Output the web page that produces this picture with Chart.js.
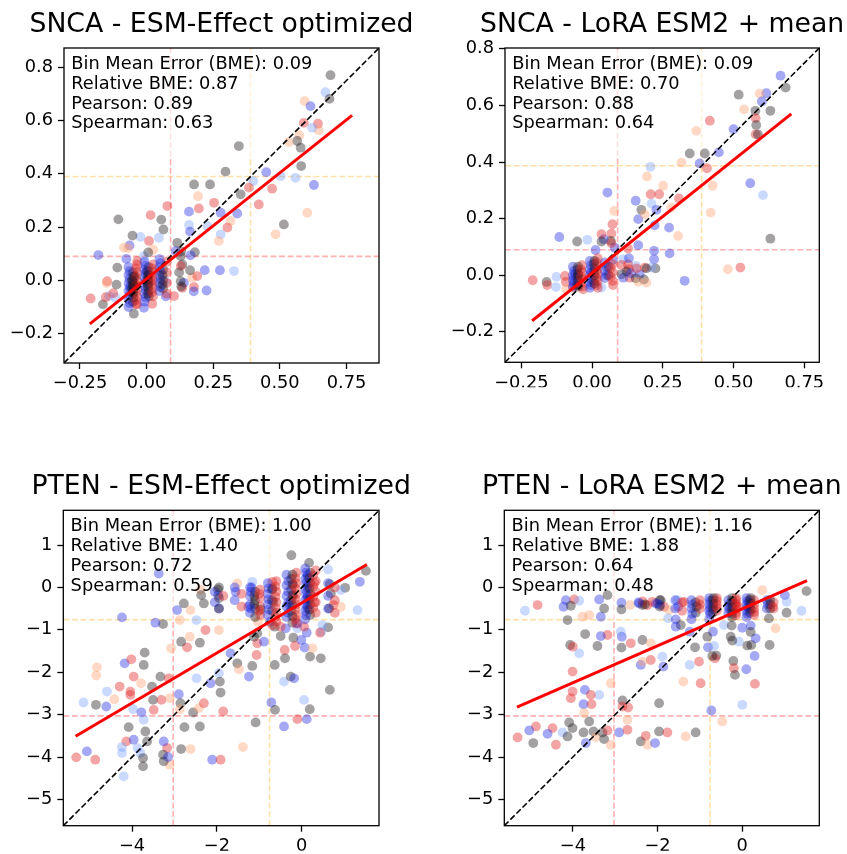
<!DOCTYPE html>
<html><head><meta charset="utf-8">
<script src="https://cdn.jsdelivr.net/npm/chart.js@4"></script>
<style>
html,body{margin:0;padding:0;background:#fff;}
#wrap{position:relative;width:847px;height:854px;overflow:hidden;}
canvas{position:absolute;}
</style></head><body><div id="wrap">
<canvas id="c0" width="420" height="427" style="left:0;top:0"></canvas>
<canvas id="c1" width="427" height="427" style="left:420px;top:0"></canvas>
<canvas id="c2" width="420" height="427" style="left:0;top:427px"></canvas>
<canvas id="c3" width="427" height="427" style="left:420px;top:427px"></canvas>
</div>
<script>
// ---------------- DATA ----------------
const TITLES = ['SNCA - ESM-Effect optimized','SNCA - LoRA ESM2 + mean','PTEN - ESM-Effect optimized','PTEN - LoRA ESM2 + mean'];
const STAT_LABELS = ['Bin Mean Error (BME)','Relative BME','Pearson','Spearman'];
const STATS = [[0.09,0.87,0.89,0.63],[0.09,0.70,0.88,0.64],[1.00,1.40,0.72,0.59],[1.16,1.88,0.64,0.48]];
const AXIS_LIMITS = [[-0.31,0.872],[-0.308,0.803],[-5.62,1.82],[-5.62,1.82]];
const TICKS_SNCA_X = [-0.25,0,0.25,0.5,0.75];
const TICKS_SNCA_Y = [-0.2,0,0.2,0.4,0.6,0.8];
const TICKS_PTEN_X = [-4,-2,0];
const TICKS_PTEN_Y = [-5,-4,-3,-2,-1,0,1];
const PINK_THRESH = [0.09,0.09,-3.03,-3.03];
const ORANGE_THRESH = [0.39,0.387,-0.76,-0.76];
const FIT_LINES = [[[-0.213,-0.163],[0.771,0.619]],[[-0.212,-0.161],[0.704,0.570]],[[-5.33,-3.51],[1.535,0.54]],[[-5.32,-2.82],[1.53,0.16]]];
// points: [true value, predicted value, hue code 0..4]
const SNCA_ESM = [
[0.69,0.77,2],[0.671,0.706,0],[0.686,0.681,2],[0.593,0.673,4],[0.615,0.654,1],[0.59,0.591,3],[0.643,0.588,3],[0.646,0.563,4],[0.621,0.573,0],[0.573,0.545,4],
[0.565,0.523,2],[0.578,0.498,2],[0.58,0.429,2],[0.559,0.385,0],[0.628,0.358,1],[0.503,0.391,0],[0.449,0.406,1],[0.534,0.519,4],[0.346,0.504,2],[0.296,0.408,2],
[0.40,0.373,0],[0.384,0.348,3],[0.353,0.323,2],[0.471,0.344,3],[0.421,0.285,3],[0.178,0.36,2],[0.238,0.36,2],[0.193,0.316,4],[0.253,0.291,3],[0.196,0.27,3],
[0.278,0.254,1],[0.34,0.251,1],[0.315,0.223,4],[0.303,0.198,3],[0.278,0.173,0],[0.271,0.148,4],[0.228,0.204,0],[0.159,0.258,1],[0.159,0.208,0],[0.163,0.183,1],
[0.515,0.21,2],[0.484,0.173,4],[0.603,0.254,4],[0.078,0.279,3],[0.015,0.245,3],[0.055,0.228,2],[0.063,0.191,2],[-0.106,0.229,2],[-0.064,0.131,1],[-0.023,0.163,0],
[0.009,0.148,3],[0.025,0.115,4],[-0.01,0.091,0],[0.046,0.16,0],[0.115,0.141,2],[0.109,0.11,1],[0.128,0.091,2],[0.181,0.106,2],[-0.181,0.095,1],[-0.085,0.123,4],
[-0.076,0.081,1],[-0.035,0.073,3],[-0.11,0.048,2],[-0.148,-0.003,3],[-0.141,-0.059,0],[-0.21,-0.068,3],[-0.164,-0.09,2],[-0.153,-0.063,3],[-0.116,-0.065,0],[-0.048,-0.125,2],
[-0.041,-0.09,3],[-0.01,-0.103,1],[0.021,-0.088,3],[0.071,-0.003,0],[0.103,-0.059,3],[0.14,-0.009,1],[0.134,-0.028,3],[0.178,-0.025,3],[0.171,0.01,4],[0.19,0.016,3],
[0.218,0.038,1],[0.225,-0.038,1],[0.163,0.038,2],[0.134,0.06,2],[0.128,0.054,3],[0.275,0.038,1],[0.328,0.035,0],[0.165,0.094,1],[0.128,-0.003,2],[-0.053,0.168,2],
[0.006,0.105,2],[-0.069,0.121,4],[0.13,0.109,2],[0.122,0.03,2],[0.13,-0.023,2],[0.177,-0.041,1],[0.072,-0.06,1],[-0.125,-0.048,3],[-0.15,-0.01,4],[-0.113,-0.016,2],
[-0.068,0.05,1],[-0.068,0.02,1],[-0.068,-0.01,1],[-0.068,-0.04,1],[-0.068,-0.07,1],[-0.068,-0.1,1],[-0.052,0.03,2],[-0.052,0.0,2],[-0.052,-0.02,2],[-0.052,-0.05,2],
[-0.052,-0.08,2],[-0.036,0.06,3],[-0.036,0.03,3],[-0.036,0.0,3],[-0.036,-0.03,3],[-0.036,-0.06,3],[-0.036,-0.09,3],[-0.06,-0.025,1],[-0.045,-0.015,3],[-0.045,0.015,2],
[-0.008,0.07,1],[-0.008,0.04,1],[-0.008,0.01,1],[-0.008,-0.02,1],[-0.008,-0.05,1],[-0.008,-0.08,1],[0.008,0.05,2],[0.008,0.02,2],[0.008,-0.01,2],[0.008,-0.04,2],
[0.008,-0.06,2],[0.024,0.06,3],[0.024,0.03,3],[0.024,0.0,3],[0.024,-0.03,3],[0.024,-0.06,3],[0.015,0.0,3],[0.0,0.035,1],
[0.048,0.08,1],[0.048,0.05,1],[0.048,0.02,1],[0.048,-0.01,1],[0.048,-0.04,1],[0.062,0.04,2],[0.062,0.0,2],[0.062,-0.03,2],[0.076,0.07,3],[0.076,0.03,3],
[0.076,-0.01,3],[0.076,-0.05,3],
[-0.064,-0.085,1],[-0.064,-0.055,1],[-0.064,-0.025,1],[-0.064,0.005,1],[-0.064,0.035,1],[-0.05,-0.065,2],[-0.05,-0.035,2],[-0.05,-0.01,2],[-0.05,0.015,2],[-0.05,-0.045,2],
[-0.05,-0.02,2],[-0.04,-0.075,3],[-0.04,-0.045,3],[-0.04,-0.015,3],[-0.04,0.015,3],[-0.04,0.045,3],[-0.055,-0.03,2],[-0.055,0.0,2],
[-0.004,0.055,1],[-0.004,0.025,1],[-0.004,-0.005,1],[-0.004,-0.035,1],[-0.004,-0.065,1],[0.005,0.035,2],[0.005,0.005,2],[0.005,-0.025,2],[0.005,-0.05,2],[0.005,0.0,2],
[0.005,-0.015,2],[0.005,0.02,2],[0.02,0.045,3],[0.02,0.015,3],[0.02,-0.015,3],[0.02,-0.045,3],
[0.052,0.065,1],[0.052,0.035,1],[0.052,0.005,1],[0.052,-0.025,1],[0.06,0.02,2],[0.06,-0.015,2]
];
const SNCA_LORA = [
[0.666,0.705,1],[0.684,0.663,2],[0.616,0.643,1],[0.592,0.642,4],[0.518,0.638,2],[0.6,0.614,1],[0.63,0.581,2],[0.577,0.581,2],[0.537,0.586,4],[0.578,0.555,3],
[0.58,0.531,2],[0.578,0.498,3],[0.586,0.498,2],[0.5,0.516,1],[0.416,0.546,3],[0.368,0.51,4],[0.345,0.43,2],[0.398,0.43,2],[0.448,0.434,1],[0.38,0.395,1],
[0.406,0.378,3],[0.316,0.398,4],[0.206,0.383,0],[0.194,0.349,4],[0.251,0.316,4],[0.237,0.286,3],[0.207,0.286,3],[0.559,0.325,1],[0.604,0.283,0],[0.426,0.316,4],
[0.419,0.221,4],[0.307,0.271,3],[0.28,0.239,4],[0.054,0.292,1],[0.154,0.263,1],[0.21,0.253,0],[0.174,0.231,2],[0.163,0.198,1],[0.227,0.231,1],[0.221,0.176,1],
[0.272,0.168,1],[0.304,0.139,4],[0.186,0.215,4],[0.078,0.227,4],[0.072,0.18,3],[0.068,0.147,3],[0.066,0.121,2],[-0.116,0.135,1],[-0.053,0.119,2],[-0.017,0.125,0],
[0.041,0.127,1],[0.08,0.097,1],[0.127,0.094,3],[0.163,0.106,1],[0.219,0.086,1],[0.219,0.056,1],[0.274,0.077,1],[0.224,0.024,2],[0.21,0.027,0],[0.186,0.027,3],
[0.168,0.003,1],[0.183,-0.015,2],[0.192,-0.026,4],[0.154,0.033,0],[0.11,0.056,0],[0.127,0.038,3],[0.13,0.021,3],[0.133,-0.009,3],[0.104,0.003,2],[0.11,-0.009,1],
[0.327,-0.02,1],[0.524,0.027,3],[0.63,0.129,2],[-0.21,-0.018,3],[-0.161,-0.024,2],[-0.159,-0.035,3],[-0.126,-0.006,0],[-0.128,-0.042,0],[-0.096,-0.003,3],[-0.093,-0.024,3],
[-0.067,-0.044,3],[-0.032,-0.05,3],[0.033,-0.044,0],[0.074,-0.035,3],[0.48,0.021,4],[0.033,0.145,3],[0.033,0.119,2],[0.012,0.089,1],[0.068,0.113,3],[0.074,0.054,1],
[0.104,0.036,3],[0.13,0.06,1],[0.122,0.013,2],[0.137,0.007,1],[0.157,0.024,3],[0.154,-0.011,2],[0.192,0.024,2],[0.163,-0.023,4],[-0.091,-0.05,4],
[-0.068,0.03,1],[-0.068,0.0,1],[-0.068,-0.02,1],[-0.068,-0.04,1],[-0.052,0.02,2],[-0.052,-0.01,2],[-0.052,-0.035,2],[-0.036,0.035,3],[-0.036,0.01,3],[-0.036,-0.015,3],
[-0.036,-0.04,3],[-0.06,0.005,1],[-0.008,0.05,1],[-0.008,0.02,1],[-0.008,0.0,1],[-0.008,-0.025,1],[-0.008,-0.045,1],[0.006,0.04,2],[0.006,0.01,2],[0.006,-0.02,2],
[0.02,0.06,3],[0.02,0.03,3],[0.02,0.005,3],[0.02,-0.02,3],[0.02,-0.045,3],[0.045,0.045,1],[0.045,0.015,1],[0.045,-0.01,1],[0.058,0.03,2],[0.058,0.0,2],
[0.072,0.04,3],[0.072,0.01,3],[0.072,-0.02,3],
[-0.064,0.015,1],[-0.064,-0.01,1],[-0.064,-0.03,1],[-0.05,0.03,2],[-0.05,0.005,2],[-0.05,-0.02,2],[-0.05,-0.04,2],[-0.05,0.0,2],[-0.04,0.02,3],[-0.04,-0.005,3],
[-0.04,-0.03,3],[-0.004,0.035,1],[-0.004,0.01,1],[-0.004,-0.015,1],[-0.004,-0.035,1],[0.008,0.025,2],[0.008,0.0,2],[0.008,-0.03,2],[0.008,0.05,2],[0.016,0.045,3],
[0.016,0.015,3],[0.016,-0.01,3],[0.016,-0.035,3],[0.05,0.03,1],[0.05,0.0,1],[0.066,0.025,3],[0.066,-0.005,3]
];
const PTEN_ESM = [
[-0.245,0.76,2],[0.172,0.58,2],[0.62,0.423,0],[1.511,0.391,2],[1.369,0.133,1],[1.023,-0.008,2],[0.92,-0.063,0],[0.661,0.078,2],[0.685,-0.142,2],[0.748,-0.416,3],
[0.92,-0.455,4],[0.645,-0.495,2],[0.62,-0.942,2],[0.487,-0.887,0],[1.314,-0.534,0],[0.463,-1.044,0],[0.448,-1.671,2],[0.661,-2.416,2],[0.054,-2.652,0],[0.188,-2.871,2],
[-0.694,0.133,3],[-0.694,-0.024,2],[-0.67,-0.338,2],[-1.166,0.133,0],[-1.182,0.0,1],[-1.52,0.093,4],[-1.56,-0.103,1],[-1.977,-0.048,2],[-1.954,-0.495,1],[-1.97,-0.181,1],
[-2.387,-0.048,4],[-2.371,-0.181,2],[-2.308,-0.377,2],[-2.938,-0.534,1],[-2.623,-0.534,4],[-3.371,0.329,1],[-2.875,-0.769,4],[-3.269,-0.863,2],[-3.45,-0.832,1],[-4.237,-0.706,1],
[-2.481,-0.769,0],[-2.269,-1.005,3],[-1.954,-1.005,4],[-2.402,-1.303,2],[-2.702,-1.412,3],[-2.843,-1.279,2],[-2.64,-1.161,4],[-3.08,-1.436,4],[-3.702,-1.538,2],[-3.725,-1.828,2],
[-4.174,-1.789,1],[-4.017,-1.695,3],[-3.961,-2.103,3],[-4.828,-1.883,4],[-4.844,-2.079,4],[-5.143,-2.714,0],[-4.851,-2.769,2],[-4.607,-2.808,1],[-4.418,-2.636,4],[-4.292,-2.337,3],
[-4.04,-2.455,3],[-4.04,-2.534,3],[-3.977,-2.867,0],[-3.78,-2.945,1],[-3.725,-3.122,0],[-3.489,-2.887,3],[-3.505,-2.652,2],[-3.332,-2.103,2],[-3.308,-2.652,3],[-3.111,-2.612,4],
[-2.898,-2.518,1],[-2.859,-2.73,2],[-2.875,-2.871,4],[-4.08,-3.295,2],[-4.135,-3.632,3],[-3.961,-3.593,1],[-3.686,-3.397,2],[-3.646,-3.632,2],[-3.867,-3.789,0],[-3.804,-3.906,0],
[-3.741,-4.024,2],[-3.741,-4.22,2],[-4.237,-3.765,0],[-4.237,-3.906,0],[-4.198,-4.455,0],[-5.064,-3.867,1],[-5.316,-4.008,3],[-4.867,-4.063,3],[-3.174,-3.789,3],[-3.111,-4.181,4],
[-3.269,-3.946,2],[-3.253,-4.102,2],[-3.253,-3.632,1],[-3.15,-4.0,1],[-2.843,-3.812,2],[-2.623,-3.812,4],[-2.402,-3.279,2],[-2.765,-3.295,2],[-2.56,-2.95,2],[-2.426,-2.847,4],
[-2.308,-2.73,3],[-2.111,-4.063,1],[-1.914,-4.063,3],[-1.387,-3.765,4],[-1.954,-2.024,0],[-2.15,-2.26,1],[-1.93,-2.221,2],[-1.914,-2.479,2],[-1.851,-2.926,3],[-1.678,-1.553,1],
[-1.52,-1.789,2],[-1.481,-1.93,4],[-1.245,-2.103,1],[-1.166,-1.852,2],[-1.064,-1.593,3],[-1.048,-1.318,3],[-1.127,-1.161,2],[-1.048,-1.083,2],[-0.891,-1.279,1],[-1.033,-0.808,4],
[-1.26,-0.455,1],[-0.969,-0.518,2],[-0.749,-0.808,1],[-0.638,-0.926,2],[-0.638,-1.828,2],[-0.418,-2.221,0],[-0.261,-2.103,2],[-0.181,-2.143,1],[-0.717,-2.714,1],[-0.63,-2.887,2],
[-0.418,-3.279,1],[-0.103,-3.106,3],[0.117,-3.106,1],[-1.087,-3.185,2],[-0.497,-1.146,2],[-0.403,-1.475,3],[-0.395,-1.671,2],[-0.198,-1.185,2],[-0.159,-1.381,3],[0.069,-1.42,1],
[0.196,-1.632,2],[0.251,-1.436,4],[0.432,-1.067,3],[-0.103,-0.965,0],[-0.009,-1.24,1],[0.117,-1.067,1],[0.054,-0.926,3],[-0.221,-0.832,2],[-0.103,-0.848,1],[-0.379,-0.965,1],
[-0.497,-0.926,3],[-0.694,-0.887,3],[-2.78,-0.377,2],[-4.591,-2.455,0],[-3.529,-2.337,2],[-3.135,-2.143,3],[-3.788,-2.26,4],[-2.481,-2.143,0],
[-1.22,0.0,1],[-1.22,-0.2,1],[-1.22,-0.4,1],[-1.22,-0.6,1],[-1.1,-0.1,2],[-1.1,-0.3,2],[-1.1,-0.5,2],[-1.1,-0.7,2],[-0.98,-0.05,3],[-0.98,-0.25,3],
[-0.98,-0.45,3],[-0.98,-0.65,3],[-0.8,0.1,1],[-0.8,-0.15,1],[-0.8,-0.4,1],[-0.8,-0.65,1],[-0.7,-0.05,2],[-0.7,-0.3,2],[-0.7,-0.55,2],[-0.6,0.15,3],
[-0.6,-0.1,3],[-0.6,-0.35,3],[-0.6,-0.6,3],[-0.6,-0.8,3],[-0.36,0.3,1],[-0.36,0.05,1],[-0.36,-0.2,1],[-0.36,-0.45,1],[-0.36,-0.7,1],[-0.25,0.2,2],
[-0.25,-0.05,2],[-0.25,-0.3,2],[-0.25,-0.55,2],[-0.13,0.35,3],[-0.13,0.1,3],[-0.13,-0.15,3],[-0.13,-0.4,3],[-0.13,-0.65,3],[-0.13,-0.85,3],[-0.2,-0.2,3],
[-0.2,0.05,3],[-0.3,-0.4,1],[0.08,0.45,1],[0.08,0.2,1],[0.08,-0.05,1],[0.08,-0.3,1],[0.08,-0.55,1],[0.08,-0.75,1],[0.14,0.3,1],[0.14,0.05,1],
[0.14,-0.2,1],[0.14,-0.45,1],[0.2,0.35,2],[0.2,0.1,2],[0.2,-0.15,2],[0.2,-0.4,2],[0.2,-0.65,2],[0.33,0.4,3],[0.33,0.15,3],[0.33,-0.1,3],
[0.33,-0.35,3],[0.33,-0.6,3],[0.62,0.1,1],[0.62,-0.2,1],[0.62,-0.5,1],[0.78,0.0,3],[0.78,-0.3,3],[0.78,-0.6,3],[-2.05,-0.1,1],[-2.05,-0.35,1],
[-1.95,0.0,2],[-1.95,-0.25,2],[-1.95,-0.5,2],[-1.85,-0.2,3],[-1.58,0.0,1],[-1.58,-0.3,1],[-1.42,-0.15,3],[-1.42,-0.45,3],
[0.1,0.35,1],[0.1,0.1,1],[0.1,-0.15,1],[0.1,-0.4,1],[0.1,-0.65,1],[0.13,0.25,1],[0.13,0.0,1],[0.13,-0.25,1],[0.13,-0.5,1],[0.18,0.22,2],
[0.18,-0.02,2],[0.18,-0.28,2],[0.18,-0.52,2],[0.27,0.28,3],[0.27,0.02,3],[0.27,-0.22,3],[0.27,-0.48,3],[0.3,0.1,3],[0.3,-0.35,3],
[-0.32,0.15,1],[-0.32,-0.1,1],[-0.32,-0.35,1],[-0.32,-0.6,1],[-0.22,0.08,2],[-0.22,-0.18,2],[-0.22,-0.42,2],[-0.22,-0.68,2],[-0.22,0.3,2],[-0.15,0.22,3],
[-0.15,-0.02,3],[-0.15,-0.28,3],[-0.15,-0.52,3],[-0.15,-0.75,3],[-0.78,-0.02,1],[-0.78,-0.28,1],[-0.78,-0.52,1],[-0.62,0.02,3],[-0.62,-0.22,3],[-0.62,-0.48,3],
[-0.62,-0.7,3],[-1.12,-0.2,2],[-1.12,-0.4,2],[-1.2,-0.1,1],[-1.2,-0.5,1],[-1.0,-0.15,3],[-1.0,-0.55,3]
];
const PTEN_LORA = [
[-5.133,-0.55,0],[-4.834,-0.416,3],[-4.166,-0.299,1],[-4.221,-0.455,1],[-3.969,-0.283,3],[-4.048,-0.432,2],[-3.851,-0.314,0],[-4.126,-0.769,2],[-3.615,-0.652,4],[-3.773,-0.691,4],
[-3.34,-0.691,1],[-3.379,-0.283,1],[-3.262,-0.495,2],[-3.183,-0.181,2],[-2.853,-0.361,1],[-2.853,-0.518,2],[-2.648,-0.416,4],[-2.436,-0.377,1],[-2.357,-0.416,2],[-2.239,-0.416,3],
[-1.925,-0.299,2],[-1.941,-0.416,1],[-1.846,-0.455,3],[-1.532,-0.299,0],[-1.516,-0.455,1],[-1.375,-0.338,3],[-2.043,-0.377,1],[-2.122,-0.338,3],[-1.729,-0.534,4],[-1.752,-0.73,0],
[-1.571,-0.753,1],[-1.453,-0.887,2],[-1.571,-0.926,1],[-1.241,-1.044,1],[-1.115,-1.412,2],[-1.241,-1.828,0],[-1.021,-1.75,3],[-0.982,-2.26,3],[-1.391,-2.221,4],[-0.809,-1.412,1],
[-0.667,-1.381,0],[-0.612,-1.608,2],[-0.643,-1.671,3],[-0.211,-1.734,2],[-0.196,-1.906,3],[-0.172,-2.063,2],[0.095,-1.93,1],[0.3,-2.275,3],[0.292,-1.616,1],[0.119,-1.373,2],
[-0.078,-1.279,0],[-0.235,-1.255,2],[-0.274,-1.161,2],[0.213,-1.357,2],[0.316,-1.2,1],[0.646,-1.357,2],[0.63,-0.73,2],[0.787,-0.965,4],[1.047,-0.597,2],[1.4,-0.55,0],
[1.518,-0.087,2],[1.007,-0.181,1],[1.047,-0.338,0],[0.473,-0.063,4],[-0.432,-0.887,0],[-0.825,-1.161,2],[-0.691,-1.044,1],[-0.707,-1.616,2],[0.001,-2.769,0],[-0.73,-2.903,1],
[-0.471,-3.161,4],[-1.1,-3.42,2],[-2.357,-1.24,2],[-2.845,-1.161,1],[-2.869,-1.044,0],[-3.183,-1.122,3],[-3.34,-1.146,1],[-3.71,-1.099,2],[-4.064,-1.357,2],[-4.001,-1.397,3],
[-3.851,-1.554,0],[-3.419,-1.381,2],[-2.853,-1.42,2],[-2.633,-1.318,3],[-2.397,-1.828,1],[-2.161,-1.711,3],[-1.886,-1.632,0],[-1.862,-1.867,1],[-2.357,-1.75,4],[-2.161,-1.318,4],
[-4.008,-1.985,3],[-4.008,-2.455,3],[-4.048,-2.612,3],[-3.379,-2.534,0],[-3.104,-2.26,4],[-2.829,-2.667,2],[-2.829,-2.808,3],[-2.696,-2.832,3],[-2.711,-3.122,4],[-3.749,-2.753,1],
[-3.56,-2.753,3],[-3.734,-2.965,4],[-4.087,-3.185,2],[-4.008,-3.318,2],[-4.48,-3.318,3],[-4.873,-3.279,3],[-5.03,-3.373,1],[-5.306,-3.538,3],[-4.936,-3.671,2],[-4.401,-3.71,3],
[-4.598,-3.452,1],[-4.244,-3.42,0],[-4.126,-3.515,2],[-3.749,-3.42,2],[-3.694,-3.671,1],[-3.513,-3.397,2],[-3.458,-3.53,4],[-3.301,-3.42,2],[-3.262,-3.577,2],[-3.183,-3.373,3],
[-3.104,-3.71,4],[-2.908,-3.42,1],[-2.711,-3.358,3],[-2.397,-3.632,2],[-2.279,-3.499,3],[-2.239,-3.71,4],[-2.059,-3.671,1],[-1.964,-3.397,2],[-1.964,-2.73,2],[-1.768,-3.42,3],
[-1.336,-3.515,4],[-3.615,-3.161,2],[-3.717,-2.416,1],[-3.576,-2.534,3],
[-1.2,-0.3,1],[-1.2,-0.5,1],[-1.2,-0.75,1],[-1.1,-0.35,2],[-1.1,-0.6,2],[-1.0,-0.3,3],[-1.0,-0.5,3],[-0.78,-0.25,1],[-0.78,-0.4,1],[-0.78,-0.55,1],
[-0.78,-0.75,1],[-0.7,-0.3,2],[-0.7,-0.45,2],[-0.7,-0.6,2],[-0.6,-0.25,3],[-0.6,-0.4,3],[-0.6,-0.55,3],[-0.33,-0.3,1],[-0.33,-0.45,1],[-0.33,-0.6,1],
[-0.24,-0.25,2],[-0.24,-0.4,2],[-0.24,-0.55,2],[-0.24,-0.7,2],[-0.14,-0.3,3],[-0.14,-0.45,3],[-0.14,-0.6,3],[-0.18,-0.38,3],[0.1,-0.25,1],[0.1,-0.4,1],
[0.1,-0.55,1],[0.1,-0.7,1],[0.15,-0.35,1],[0.15,-0.5,1],[0.18,-0.3,2],[0.18,-0.45,2],[0.18,-0.6,2],[0.28,-0.3,3],[0.28,-0.5,3],[0.28,-0.65,3],
[0.58,-0.3,1],[0.58,-0.5,1],[0.66,-0.4,2],[0.74,-0.35,3],[0.74,-0.5,3],[-1.58,-0.3,1],[-1.58,-0.5,1],[-1.42,-0.35,3],[-1.42,-0.55,3],[-1.95,-0.3,2],
[-1.95,-0.45,2],[-2.0,-0.38,1],[-2.35,-0.33,3],[-2.3,-0.4,2],[-2.45,-0.35,1],[0.2,-0.9,1],[0.2,-1.05,2],[-0.25,-0.9,2],[0.0,-0.95,1],
[-0.76,-0.32,1],[-0.76,-0.48,1],[-0.76,-0.62,1],[-0.68,-0.38,2],[-0.68,-0.52,2],[-0.68,-0.25,2],[-0.6,-0.32,3],[-0.6,-0.48,3],[-0.3,-0.38,1],[-0.3,-0.52,1],
[-0.24,-0.32,2],[-0.24,-0.47,2],[-0.24,-0.62,2],[-0.15,-0.25,3],[-0.15,-0.38,3],[-0.15,-0.52,3],[-0.15,-0.66,3],[-0.1,-0.45,3],[0.12,-0.32,1],[0.12,-0.47,1],
[0.12,-0.62,1],[0.2,-0.38,2],[0.2,-0.52,2],[0.2,-0.25,2],[0.28,-0.4,3],[0.28,-0.58,3],[0.6,-0.4,1],[0.66,-0.3,2],[0.66,-0.5,2],[0.72,-0.45,3],
[-1.18,-0.4,1],[-1.18,-0.62,1],[-1.08,-0.45,2],[-1.0,-0.4,3]
];
const SERIES = [SNCA_ESM, SNCA_LORA, PTEN_ESM, PTEN_LORA];

// ---------------- STYLE / LAYOUT ----------------
const HUE_RGB = ['120,160,255','30,40,225','28,20,26','225,30,30','255,160,110'];
const PT_ALPHA = 0.4;
const PT_RADIUS = 4.9;
const FONT = '"DejaVu Sans", sans-serif';
const LAYOUT = [
  {l:64, t:48, r:379, b:363, w:420, h:427},
  {l:85, t:48, r:399.3, b:362.3, w:427, h:427},
  {l:63.3, t:83.3, r:379, b:398.7, w:420, h:427},
  {l:84.3, t:83.3, r:399.3, b:398.7, w:427, h:427}
];
const Y_AXIS_W = 58, X_AXIS_H = 25;
const TICK_FONT = 17.8, TEXT_FONT = 17.8, TITLE_FONT = 26.7;

function fmt(v, dec){ const s = Math.abs(v).toFixed(dec); return (v < -1e-9 ? '\u2212' : '') + s; }

const decor = {
  id: 'decor',
  beforeDatasetDraw(chart, args) {
    const o = chart.options.plugins.decor;
    if (args.index !== o.boxBefore) return;
    const a = chart.chartArea, ctx = chart.ctx;
    ctx.save();
    ctx.fillStyle = 'rgba(255,255,255,0.6)';
    ctx.beginPath();
    ctx.roundRect(a.left + 2.5, a.top + 1.5, 250, 107, 5);
    ctx.fill();
    ctx.restore();
  },
  afterDatasetsDraw(chart) {
    const o = chart.options.plugins.decor;
    const a = chart.chartArea, ctx = chart.ctx;
    ctx.save();
    ctx.fillStyle = '#000';
    ctx.font = TEXT_FONT + 'px ' + FONT;
    ctx.textAlign = 'left';
    ctx.textBaseline = 'alphabetic';
    o.lines.forEach((s, i) => ctx.fillText(s, a.left + 7.3, a.top + 20.7 + i * 19.9));
    ctx.font = TITLE_FONT + 'px ' + FONT;
    ctx.textAlign = 'center';
    ctx.fillText(o.title, (a.left + a.right) / 2, a.top - 16.5);
    ctx.strokeStyle = '#000';
    ctx.lineWidth = 1.3;
    ctx.strokeRect(a.left, a.top, a.right - a.left, a.bottom - a.top);
    ctx.restore();
  }
};

function axis(ticks, dec, lim, isX) {
  return {
    type: 'linear', min: lim[0], max: lim[1],
    afterBuildTicks: s => { s.ticks = ticks.map(v => ({value: v})); },
    afterFit: s => {
      if (isX) s.height = X_AXIS_H; else s.width = Y_AXIS_W;
      s.paddingLeft = s.paddingRight = s.paddingTop = s.paddingBottom = 0;
    },
    ticks: {
      callback: v => fmt(v, dec), color: '#000', autoSkip: false, maxRotation: 0, minRotation: 0,
      padding: isX ? 4 : 5, font: {family: FONT, size: TICK_FONT}
    },
    grid: {display: true, drawOnChartArea: false, drawTicks: true, tickLength: 6, tickWidth: 1.3, tickColor: '#000'},
    border: {display: false}
  };
}

function lineDs(p0, p1, color, width, dash) {
  return {type: 'scatter', showLine: true, data: [{x: p0[0], y: p0[1]}, {x: p1[0], y: p1[1]}],
    borderColor: color, borderWidth: width, borderDash: dash || [], pointRadius: 0, pointHoverRadius: 0, fill: false};
}

SERIES.forEach((pts, i) => {
  const L = LAYOUT[i];
  const lim = AXIS_LIMITS[i];
  const isSnca = i < 2;
  const xt = isSnca ? TICKS_SNCA_X : TICKS_PTEN_X;
  const yt = isSnca ? TICKS_SNCA_Y : TICKS_PTEN_Y;
  const xd = isSnca ? 2 : 0, yd = isSnca ? 1 : 0;
  const pk = PINK_THRESH[i], og = ORANGE_THRESH[i];
  const fit = FIT_LINES[i];
  const datasets = [
    lineDs(fit[0], fit[1], '#ff0000', 3),
    lineDs([lim[0], lim[0]], [lim[1], lim[1]], '#000000', 1.6, [6, 2.6]),
    {type: 'scatter', data: pts.map(p => ({x: p[0], y: p[1]})),
     backgroundColor: pts.map(p => 'rgba(' + HUE_RGB[p[2]] + ',' + PT_ALPHA + ')'),
     borderWidth: 0, pointRadius: PT_RADIUS, pointHoverRadius: PT_RADIUS},
    lineDs([pk, lim[0]], [pk, lim[1]], 'rgba(255,0,0,0.3)', 1.6, [6, 2.6]),
    lineDs([lim[0], pk], [lim[1], pk], 'rgba(255,0,0,0.3)', 1.6, [6, 2.6]),
    lineDs([og, lim[0]], [og, lim[1]], 'rgba(255,165,0,0.35)', 1.6, [6, 2.6]),
    lineDs([lim[0], og], [lim[1], og], 'rgba(255,165,0,0.35)', 1.6, [6, 2.6])
  ];
  const lines = STAT_LABELS.map((s, k) => s + ': ' + STATS[i][k].toFixed(2));
  new Chart(document.getElementById('c' + i), {
    type: 'scatter',
    data: {datasets},
    options: {
      responsive: false, animation: false, devicePixelRatio: 1, events: [],
      layout: {padding: {left: L.l - Y_AXIS_W, top: L.t, right: L.w - L.r, bottom: L.h - L.b - X_AXIS_H}},
      scales: {x: axis(xt, xd, lim, true), y: axis(yt, yd, lim, false)},
      plugins: {legend: {display: false}, tooltip: {enabled: false}, title: {display: false},
        decor: {title: TITLES[i], lines, boxBefore: 2}}
    },
    plugins: [decor]
  });
});
</script>
</body></html>
